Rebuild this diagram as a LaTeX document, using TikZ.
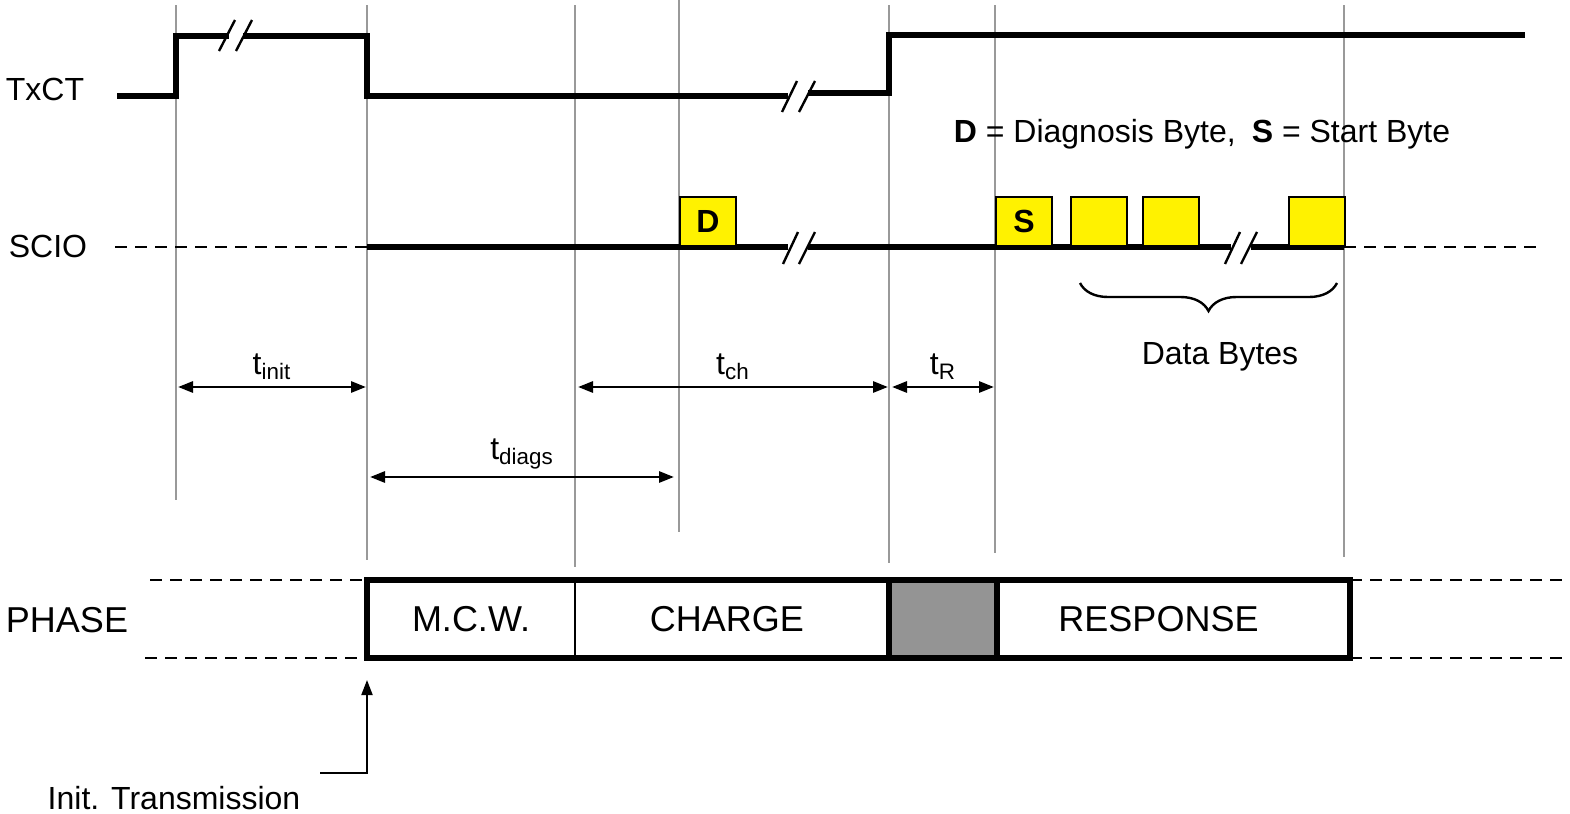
\documentclass[tikz,border=0pt]{standalone}
\usepackage{fontspec}
\setmainfont{Liberation Sans}
\usetikzlibrary{positioning,arrows.meta,decorations.pathreplacing}

\begin{document}
\begin{tikzpicture}[x=0.5pt,y=-0.5pt,>={Triangle[length=7.5pt,width=5.5pt]},
    font=\fontsize{16pt}{19pt}\selectfont,
    guide/.style={draw=black!40,line width=1.2pt},
    sig/.style={line width=2.6pt},
    idle/.style={line width=1.2pt,dash pattern=on 6pt off 4pt},
    brk/.style={line width=1.2pt},
    byte/.style={draw,fill=yellow,line width=1pt,anchor=south west,minimum width=28pt,minimum height=24.5pt,inner sep=0pt,font=\fontsize{16pt}{19pt}\selectfont\bfseries},
    cell/.style={draw,line width=1pt,minimum height=39pt,inner sep=0pt,outer sep=0pt,font=\fontsize{18pt}{21pt}\selectfont},
    dim/.style={<->,line width=1.4pt}]

    \useasboundingbox (0,0) rectangle (1570,814);

    % guide lines
    \foreach \x/\top/\bot in {176/5/500,367/5/560,575/5/567,679/0/532,889/5/563,995/5/553,1344/5/557}
        \draw[guide] (\x,\top) -- (\x,\bot);

    \node (txct) at (45,100) [anchor=base]{TxCT};
    \node (scio) at (48,257) [anchor=base]{SCIO};
    \node (phase) at (67,632) [anchor=base,font=\fontsize{18pt}{21pt}\selectfont]{PHASE};

    % TxCT
    \draw[sig] (117,96) -- (176,96) -- (176,36) -- (229,36);
    \draw[sig] (243,36) -- (367,36) -- (367,96) -- (788,96);
    \draw[sig] (808,93) -- (889,93) -- (889,35) -- (1525,35);
    \draw[brk] (219,51) -- (235,20) (236,51) -- (252,20);
    \draw[brk] (782,112) -- (797,81) (799,112) -- (815,81);

    % SCIO
    \draw[idle] (115,247) -- (367,247);
    \draw[sig] (367,247) -- (788,247) (808,247) -- (1231,247) (1251,247) -- (1344,247);
    \draw[idle] (1344,247) -- (1540,247);
    \draw[brk] (783,264) -- (798,232) (799,264) -- (815,232);
    \draw[brk] (1225,264) -- (1240,232) (1241,264) -- (1257,232);

    \node (dbyte) at (679,247) [byte]{D};
    \node (sbyte) at (995,247) [byte]{S};
    \node (byte1) at (1070,247) [byte]{};
    \node (byte2) at (1142,247) [byte]{};
    \node (byten) at (1288,247) [byte]{};

    \node (legend) at (1202,142) [anchor=base]{\textbf{D} = Diagnosis Byte,\enspace\textbf{S} = Start Byte};

    \coordinate (braceL) at (1080,283);
    \coordinate (braceR) at (1337,283);
    \draw[decorate,decoration={brace,mirror,amplitude=14pt},line width=1.2pt] (braceL) -- (braceR);
    \node (databytes) at (1220,364) [anchor=base]{Data Bytes};

    % times
    \coordinate (initL) at (178,387);
    \coordinate (initR) at (366,387);
    \coordinate (chL) at (578,387);
    \coordinate (chR) at (888,387);
    \coordinate (rL) at (892,387);
    \coordinate (rR) at (994,387);
    \coordinate (diagL) at (370,477);
    \coordinate (diagR) at (674,477);

    \path[every node/.style={above,inner sep=3pt}]
        (initL) edge[dim] node{t\textsubscript{init}} (initR)
        (chL) edge[dim] node{t\textsubscript{ch}} (chR)
        (rL) edge[dim] node{t\textsubscript{R}} (rR)
        (diagL) edge[dim] node{t\textsubscript{diags}} (diagR)
    ;

    % phases
    \node (mcw) at (471,619) [cell,minimum width=104pt]{M.C.W.};
    \node (charge) [cell,right=0pt of mcw,minimum width=157pt]{\hspace*{-5pt}CHARGE};
    \node (gap) [cell,right=0pt of charge,fill=black!42,minimum width=54pt]{};
    \node (resp) [cell,right=0pt of gap,minimum width=176.5pt]{\hspace*{-15pt}RESPONSE};
    \draw[line width=2.6pt] (mcw.north west) rectangle (resp.south east);
    \draw[line width=2.6pt] (gap.north west) -- (gap.south west) (gap.north east) -- (gap.south east);

    \coordinate (dashTL) at (150,580);
    \coordinate (dashBL) at (145,658);
    \coordinate (dashTR) at (1570,580);
    \coordinate (dashBR) at (1570,658);
    \draw[idle] (dashTL) -- (mcw.north west) (dashBL) -- (mcw.south west);
    \draw[idle] (resp.north east) -- (dashTR) (resp.south east) -- (dashBR);

    \coordinate (initfoot) at (320,773);
    \coordinate (inittip) at (367,680);
    \draw[->,line width=1pt] (initfoot) -| (inittip);
    \node (inittext) at (174,809) [anchor=base]{Init. Transmission};
\end{tikzpicture}
\end{document}
